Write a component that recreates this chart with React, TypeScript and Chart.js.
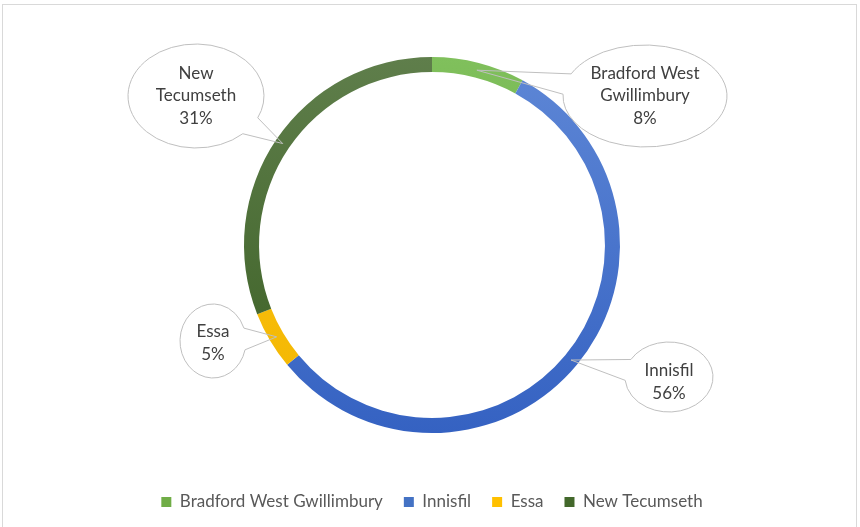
import React, { useEffect, useRef } from "react";
import { Chart, registerables } from "chart.js";

Chart.register(...registerables);

const categories = ["Bradford West Gwillimbury", "Innisfil", "Essa", "New Tecumseth"];
const shares = [8, 56, 5, 31];
const baseColors = ["#70AD47", "#4472C4", "#FFC000", "#43682B"];
const lightColors = ["#80C05C", "#5E87D6", "#FFC617", "#5F7E4B"];
const darkColors = ["#5C9C36", "#3562C2", "#F2B600", "#3A5F23"];

// callout bubble layout (annotation geometry, not data)
const callouts = [
  { cx: 645, cy: 96, rx: 82, ry: 51, wrap: 130, dy: 0 },
  { cx: 669, cy: 377, rx: 44, ry: 35, wrap: 80, dy: 5 },
  { cx: 213, cy: 341, rx: 33, ry: 37, wrap: 60, dy: 2 },
  { cx: 196, cy: 96, rx: 68, ry: 52, wrap: 110, dy: 0 },
];

const FONT = "Lato, 'Open Sans', sans-serif";

function wrapText(ctx: CanvasRenderingContext2D, text: string, maxW: number): string[] {
  const words = text.split(" ");
  const lines: string[] = [];
  let cur = "";
  for (const w of words) {
    const t = cur ? cur + " " + w : w;
    if (cur && ctx.measureText(t).width > maxW) {
      lines.push(cur);
      cur = w;
    } else cur = t;
  }
  if (cur) lines.push(cur);
  return lines;
}

function bubblePath(ctx: CanvasRenderingContext2D, c: any, tip: { x: number; y: number }) {
  const t0 = Math.atan2((tip.y - c.cy) / c.ry, (tip.x - c.cx) / c.rx);
  const speed = Math.hypot(c.rx * Math.sin(t0), c.ry * Math.cos(t0));
  const d = 11 / speed;
  ctx.beginPath();
  ctx.ellipse(c.cx, c.cy, c.rx, c.ry, 0, t0 + d, t0 + 2 * Math.PI - d, false);
  ctx.lineTo(tip.x, tip.y);
  ctx.closePath();
}

const calloutPlugin = {
  id: "callouts",
  beforeDatasetsDraw(chart: any) {
    const ctx = chart.ctx as CanvasRenderingContext2D;
    const meta = chart.getDatasetMeta(0);
    meta.data.forEach((arc: any, i: number) => {
      const c = callouts[i];
      if (!c) return;
      const tip = arc.getCenterPoint();
      ctx.save();
      bubblePath(ctx, c, tip);
      ctx.fillStyle = "#ffffff";
      ctx.fill();
      ctx.restore();
    });
  },
  afterDatasetsDraw(chart: any) {
    const ctx = chart.ctx as CanvasRenderingContext2D;
    const meta = chart.getDatasetMeta(0);
    const data = chart.data.datasets[0].data as number[];
    const total = data.reduce((a, b) => a + b, 0);
    meta.data.forEach((arc: any, i: number) => {
      const c = callouts[i];
      if (!c) return;
      const tip = arc.getCenterPoint();
      ctx.save();
      bubblePath(ctx, c, tip);
      ctx.strokeStyle = "#BFBFBF";
      ctx.lineWidth = 1;
      ctx.stroke();
      ctx.font = `17px ${FONT}`;
      ctx.fillStyle = "#404040";
      ctx.textAlign = "center";
      ctx.textBaseline = "middle";
      const lines = wrapText(ctx, String(chart.data.labels[i]), c.wrap);
      lines.push(Math.round((data[i] / total) * 100) + "%");
      const lh = 22.5;
      const y0 = c.cy + c.dy - ((lines.length - 1) * lh) / 2;
      lines.forEach((l, k) => ctx.fillText(l, c.cx, y0 + k * lh));
      ctx.restore();
    });
  },
};

export default function App() {
  const ref = useRef<HTMLCanvasElement | null>(null);
  useEffect(() => {
    if (!ref.current) return;
    const chart = new Chart(ref.current, {
      type: "doughnut",
      data: {
        labels: categories,
        datasets: [
          {
            data: shares,
            borderWidth: 0,
            backgroundColor: (context: any) => {
              const i = context.dataIndex;
              const ch = context.chart;
              const area = ch.chartArea;
              if (!area) return baseColors[i];
              const cy = (area.top + area.bottom) / 2;
              const g = ch.ctx.createLinearGradient(0, cy - 188, 0, cy + 188);
              g.addColorStop(0, lightColors[i]);
              g.addColorStop(1, darkColors[i]);
              return g;
            },
          },
        ],
      },
      options: {
        animation: false,
        responsive: true,
        maintainAspectRatio: false,
        radius: 188,
        cutout: "92%",
        layout: { padding: { top: 17.5, bottom: 6.5, left: 4, right: 0 } },
        plugins: {
          tooltip: { enabled: false },
          legend: {
            position: "bottom",
            labels: {
              boxWidth: 10,
              boxHeight: 10,
              padding: 21,
              color: "#595959",
              font: { size: 17, family: FONT },
              generateLabels: (ch: any) =>
                ch.data.labels.map((l: string, i: number) => ({
                  text: l,
                  fillStyle: baseColors[i],
                  strokeStyle: baseColors[i],
                  lineWidth: 0,
                  hidden: false,
                  index: i,
                  fontColor: "#595959",
                })),
            },
          },
        },
      } as any,
      plugins: [calloutPlugin],
    });
    return () => chart.destroy();
  }, []);

  return (
    <div style={{ position: "fixed", left: 0, top: 0, width: 860, height: 527, background: "#fff", overflow: "hidden" }}>
      <div
        style={{
          position: "absolute",
          left: 2,
          top: 4,
          width: 855,
          height: 560,
          border: "1px solid #D9D9D9",
          boxSizing: "border-box",
        }}
      />
      <div style={{ position: "absolute", left: 0, top: 0, width: 860, height: 527 }}>
        <canvas ref={ref} />
      </div>
    </div>
  );
}
